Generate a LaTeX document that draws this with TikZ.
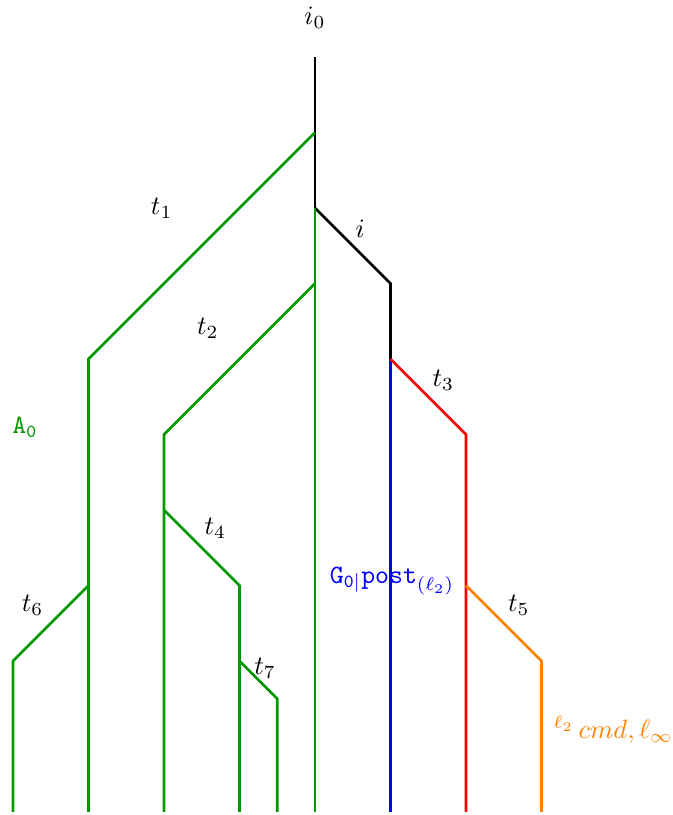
\documentclass[tikz,border=0pt]{standalone}
\usepackage{amsmath}
\usepackage{amssymb}
\usepackage{tikz}
\usetikzlibrary{calc, arrows.meta}

\begin{document}
\begin{tikzpicture}[line width = 1pt, branch/.style = {green!60!black}]
        \useasboundingbox (-4.172,0.755) rectangle (4.742,-10.04);

         % Main run
         \draw (0,0) -- (0,-2);
         \draw (0,-2) -- (1,-3) -- (1,-4);
         \node (i0) at (0, 0.52) {$i_0$};
         \node (i) at (0.6, -2.27) {$i$};

         % Left branches
         \draw[branch] (0,-1) -- (-3,-4) -- (-3,-10);
         \draw[branch] (-3,-7) -- (-4,-8) -- (-4,-10);
         \draw[branch] (0,-2) -- (0,-10);
         \draw[branch] (0,-3) -- (-2,-5) -- (-2,-10);
         \draw[branch] (-2,-6) -- (-1,-7) -- (-1,-10);
         \draw[branch] (-1,-8) -- (-0.5,-8.5) -- (-0.5,-10);

         \node (t1) at (-2.03, -2) {$t_1$};
         \node (t2) at (-1.42, -3.6) {$t_2$};
         \node (t4) at (-1.32, -6.24) {$t_4$};
         \node (t6) at (-3.74, -7.26) {$t_6$};
         \node (t7) at (-0.66, -8.1) {$t_7$};
         \node (A0) at (-3.84, -4.91) [green!60!black] {$\mathtt{A}_{\mathtt{0}}$};

         % Right branches
         \draw[blue] (1,-4) -- (1,-10);
         \draw[red] (1,-4) -- (2,-5) -- (2,-10);
         \draw[orange] (2,-7) -- (3,-8) -- (3,-10);

         \node (t3) at (1.7, -4.28) {$t_3$};
         \node (t5) at (2.7, -7.26) {$t_5$};
         \node (G0) at (1.02, -6.94) [blue] {$\mathtt{G}_{\mathtt{0}|}\mathtt{post}_{(\ell_2)}$};
         \node (l2) at (3.95, -8.91) [orange] {$^{\ell_2}\,cmd,\ell_\infty$};
    \end{tikzpicture}
\end{document}
